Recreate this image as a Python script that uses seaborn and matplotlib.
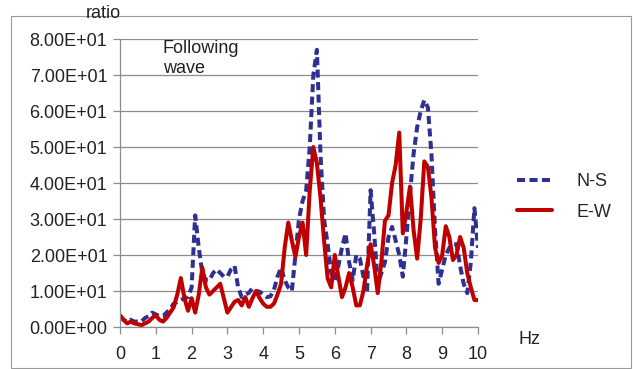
import numpy as np
import pandas as pd
import matplotlib
matplotlib.use("Agg")
import matplotlib.pyplot as plt
from matplotlib.ticker import FuncFormatter
from matplotlib.patches import Rectangle
from matplotlib.lines import Line2D
import seaborn as sns

freq = [round(0.1 * i, 1) for i in range(101)]

ns = [3, 2, 1.5, 2, 1.5, 1.5, 1.5, 2.5, 3, 4,
      3.5, 3, 3, 4, 5, 6.5, 7, 7.5, 8, 8.3,
      11, 31, 22, 15, 13, 13, 15, 16, 15, 14,
      14, 16, 17, 11, 8.3, 9, 9.5, 10.8, 10, 9.8,
      9, 8.3, 8.5, 10.3, 14, 16.5, 13, 11, 10, 20,
      30, 35, 38, 50, 70, 77, 48, 30, 23, 15,
      13, 17, 22, 26, 18, 13, 20, 19, 14, 9.5,
      38, 26, 12, 15, 18, 25, 27.8, 24, 20, 14,
      25, 37, 48, 55.5, 60, 63, 61, 48, 27, 12,
      16, 20, 22, 23, 23, 17, 12, 9.4, 18, 33,
      22]

ew = [3.3, 2, 1, 1.5, 1, 0.8, 0.5, 1, 1.5, 2.5,
      3.3, 2, 1.5, 2.5, 4, 5.5, 9, 13.6, 8, 4.5,
      8, 4, 9, 16.5, 11, 9, 10, 11, 12, 8,
      4, 5.5, 7, 7.5, 6, 8.3, 5.6, 8, 10, 8,
      6.5, 5.6, 5.6, 6.5, 9, 12, 22, 29, 24, 19.5,
      25, 29, 20, 38, 50, 45.5, 36, 24, 13.5, 11,
      20, 14, 8.3, 11, 15, 11, 6, 6, 10, 17,
      23, 17, 9.4, 18, 29.5, 31, 40, 45, 54, 26,
      32, 39, 27, 19, 30, 46, 44.5, 36, 22, 17.8,
      20, 28, 25, 18.6, 20, 25, 22, 15, 11, 7.5,
      7.5]

series_names = ["N-S", "E-W"]
y_ticks = [0, 10, 20, 30, 40, 50, 60, 70, 80]
x_ticks = list(range(0, 11))

df = pd.DataFrame({
    "freq": freq * 2,
    "value": ns + ew,
    "series": [series_names[0]] * len(freq) + [series_names[1]] * len(freq),
})

sns.set_theme(style="white")
plt.rcParams["font.family"] = ["Liberation Sans", "DejaVu Sans"]

FS = 13
W, H = 633, 369
fig = plt.figure(figsize=(W / 100, H / 100), dpi=100)
ax = fig.add_axes([120 / W, (H - 327) / H, 358 / W, 288 / H])

palette = {"N-S": "#2E3192", "E-W": "#C00000"}
DASH = (2.0, 1.1)
LW = 2.9
sns.lineplot(data=df, x="freq", y="value", hue="series", style="series",
             palette=palette, dashes={"N-S": DASH, "E-W": ""},
             linewidth=LW, ax=ax, legend=False)
for ln in ax.get_lines():
    ln.set_solid_joinstyle("round")
    ln.set_dash_joinstyle("round")

ax.set_xlim(0, 10)
ax.set_ylim(0, 80)
ax.set_xticks(x_ticks)
ax.set_yticks(y_ticks)
ax.yaxis.set_major_formatter(FuncFormatter(lambda v, p: f"{v:.2E}"))
ax.set_xlabel("")
ax.set_ylabel("")
ax.grid(axis="y", color="#8c8c8c", linewidth=0.9)
ax.grid(axis="x", visible=False)
for s in ["top", "right"]:
    ax.spines[s].set_visible(False)
for s in ["left", "bottom"]:
    ax.spines[s].set_color("#8c8c8c")
    ax.spines[s].set_linewidth(0.9)
ax.tick_params(axis="both", which="major", length=5, width=0.9, color="#8c8c8c",
               labelsize=FS, labelcolor="#222222", direction="out", bottom=True, left=True)
ax.tick_params(axis="x", pad=9)
ax.tick_params(axis="y", pad=4)
ax.set_axisbelow(True)

handles = [Line2D([0], [0], color=palette["N-S"], lw=LW, dashes=DASH),
           Line2D([0], [0], color=palette["E-W"], lw=LW)]
fig.legend(handles, series_names, loc="center left",
           bbox_to_anchor=(501 / W, 1 - 197 / H), frameon=False,
           fontsize=FS, handlelength=1.9, handletextpad=1.4, labelspacing=0.75)

fig.text(103 / W, 1 - 13 / H, "ratio", ha="center", va="center", fontsize=FS, color="#222222")
fig.text(530 / W, 1 - 340 / H, "Hz", ha="center", va="center", fontsize=FS, color="#222222")
fig.text(163 / W, 1 - 40 / H, "Following\nwave", ha="left", va="top",
         fontsize=FS, color="#222222", linespacing=1.25)

fig.patches.append(Rectangle((11 / W, 1 / H), 620 / W, (H - 17) / H,
                             transform=fig.transFigure, fill=False,
                             edgecolor="#9a9a9a", linewidth=0.8, zorder=-1))

fig.savefig("out.png", dpi=100)
